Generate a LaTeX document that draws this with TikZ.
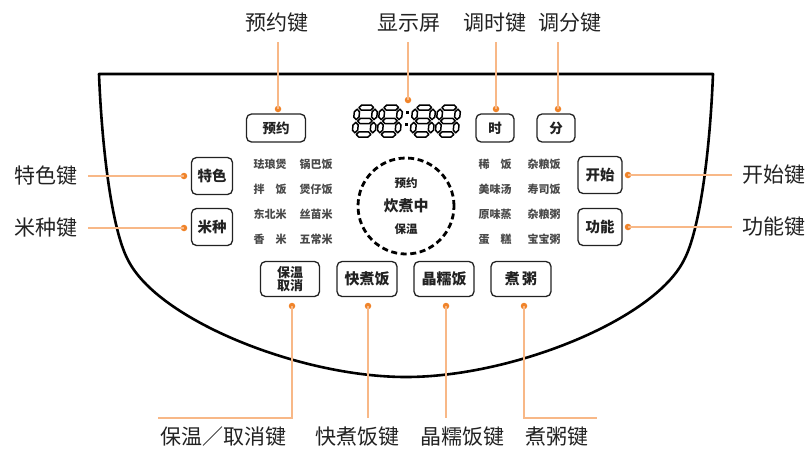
\documentclass[tikz,border=0pt]{standalone}
\usepackage{fontspec}
\newfontfamily\cjk{Noto Sans CJK SC}
\usetikzlibrary{calc}
\definecolor{leadc}{HTML}{F8B887}
\definecolor{dotc}{HTML}{F0842A}
\definecolor{ink}{HTML}{222222}
\definecolor{modec}{HTML}{4A4A4A}
\tikzset{
  lead/.style={leadc, line width=1.3pt},
  dotn/.style={circle, fill=dotc, inner sep=0pt, minimum size=6.5pt},
  lab/.style={font=\cjk\fontsize{21}{23}\selectfont, text=ink, inner sep=0pt},
  btn/.style={draw=ink, line width=1.3pt, rounded corners=5pt, fill=white, inner sep=0pt,
              font=\cjk\bfseries\fontsize{13.5}{14}\selectfont, text=ink, align=center},
  mode/.style={font=\cjk\bfseries\fontsize{11}{12}\selectfont, text=modec, inner sep=0pt},
  seg/.style={draw=black, line width=1.5pt, fill=white, line join=round},
  shell/.style={draw=black, line width=2.6pt, line join=round},
}
\newcommand\lcddigit[1]{%
  \begin{scope}[shift={#1}, xslant=0.1]
    \def\t{2.6}
    \foreach \c in {2.6,16,29.4}{
      \path[seg] (4.2,\c) -- (4.2+\t,\c-\t) -- (18.8-\t,\c-\t) -- (18.8,\c) -- (18.8-\t,\c+\t) -- (4.2+\t,\c+\t) -- cycle;
    }
    \foreach \c in {2.6,20.4}{
      \foreach \a/\b in {4.2/14.6,17.4/27.8}{
        \path[seg] (\c,\a) -- (\c+\t,\a+\t) -- (\c+\t,\b-\t) -- (\c,\b) -- (\c-\t,\b-\t) -- (\c-\t,\a+\t) -- cycle;
      }
    }
  \end{scope}}
\begin{document}
\begin{tikzpicture}[x=1pt,y=-1pt]
\useasboundingbox (0,0) rectangle (811,448);
\fill[white] (0,0) rectangle (811,448);

% cooker outline
\draw[shell] (99,74) .. controls (102,150) and (112,230) .. (128,260)
  .. controls (158,320) and (300,377) .. (406,377)
  .. controls (512,377) and (654,320) .. (684,260)
  .. controls (700,230) and (710,150) .. (713,74) -- cycle;

% LCD display
\lcddigit{(355,105)}
\lcddigit{(380,105)}
\lcddigit{(413,105)}
\lcddigit{(438,105)}
\fill (406,114) rectangle +(3,-3);
\fill (405,126) rectangle +(3,-3);

% center dashed indicator
\draw[line width=2.8pt, dash pattern=on 6pt off 3.6pt] (406,206) circle (48pt);
\node[font=\cjk\bfseries\fontsize{11.5}{12}\selectfont, text=ink] (i1) at (406,183) {预约};
\node[font=\cjk\bfseries\fontsize{15}{16}\selectfont, text=ink] (i2) at (406,206) {炊煮中};
\node[font=\cjk\bfseries\fontsize{11.5}{12}\selectfont, text=ink] (i3) at (406,229) {保温};

% top buttons
\node[btn, minimum width=59pt, minimum height=28pt] (byy) at (276,128) {预约};
\node[btn, minimum width=38pt, minimum height=28pt] (bsh) at (495,128) {时};
\node[btn, minimum width=38pt, minimum height=28pt] (bfe) at (556,128) {分};

% side buttons
\node[btn, minimum width=41pt, minimum height=37pt, font=\cjk\bfseries\fontsize{14.5}{15}\selectfont] (bts) at (212,176) {特色};
\node[btn, minimum width=41pt, minimum height=37pt, font=\cjk\bfseries\fontsize{14.5}{15}\selectfont] (bmz) at (212,227) {米种};
\node[btn, minimum width=44pt, minimum height=37pt, font=\cjk\bfseries\fontsize{14.5}{15}\selectfont] (bks) at (600,175) {开始};
\node[btn, minimum width=44pt, minimum height=37pt, font=\cjk\bfseries\fontsize{14.5}{15}\selectfont] (bgn) at (600,227) {功能};

% bottom buttons
\node[btn, minimum width=59pt, minimum height=35pt, font=\cjk\bfseries\fontsize{13}{14}\selectfont] (bbw) at (290,279) {保温\\[-1pt]取消};
\node[btn, minimum width=60pt, minimum height=35pt, font=\cjk\bfseries\fontsize{15}{16}\selectfont] (bkz) at (367,279) {快煮饭};
\node[btn, minimum width=60pt, minimum height=35pt, font=\cjk\bfseries\fontsize{15}{16}\selectfont] (bjn) at (444,279) {晶糯饭};
\node[btn, minimum width=60pt, minimum height=35pt, font=\cjk\bfseries\fontsize{15}{16}\selectfont] (bzz) at (521,279) {煮\,粥};

% mode labels left
\node[mode] (m11) at (270,164) {珐琅煲};
\node[mode] (m12) at (316,164) {锅巴饭};
\node[mode] (m21) at (270,189) {拌　饭};
\node[mode] (m22) at (316,189) {煲仔饭};
\node[mode] (m31) at (270,214) {东北米};
\node[mode] (m32) at (316,214) {丝苗米};
\node[mode] (m41) at (270,239) {香　米};
\node[mode] (m42) at (316,239) {五常米};
% mode labels right
\node[mode] (n11) at (495,164) {稀　饭};
\node[mode] (n12) at (544,164) {杂粮饭};
\node[mode] (n21) at (495,189) {美味汤};
\node[mode] (n22) at (544,189) {寿司饭};
\node[mode] (n31) at (495,214) {原味蒸};
\node[mode] (n32) at (544,214) {杂粮粥};
\node[mode] (n41) at (495,239) {蛋　糕};
\node[mode] (n42) at (544,239) {宝宝粥};

% outer labels
\node[lab] (lyy) at (277,23) {预约键};
\node[lab] (lxs) at (409,23) {显示屏};
\node[lab] (lsh) at (495,23) {调时键};
\node[lab] (lfe) at (570,23) {调分键};
\node[lab] (lts) at (46,176) {特色键};
\node[lab] (lmz) at (46,228) {米种键};
\node[lab] (lks) at (774,175) {开始键};
\node[lab] (lgn) at (774,227) {功能键};
\node[lab] (lbw) at (223,437) {保温／取消键};
\node[lab] (lkz) at (357,437) {快煮饭键};
\node[lab] (ljn) at (462,437) {晶糯饭键};
\node[lab] (lzz) at (557,437) {煮粥键};

% dots
\node[dotn] (dyy) at (278,109) {};
\node[dotn] (dxs) at (408,100) {};
\node[dotn] (dsh) at (496,109) {};
\node[dotn] (dfe) at (558,109) {};
\node[dotn] (dts) at (184,176) {};
\node[dotn] (dmz) at (184,228) {};
\node[dotn] (dks) at (628,175) {};
\node[dotn] (dgn) at (628,227) {};
\node[dotn] (dbw) at (292,306) {};
\node[dotn] (dkz) at (368,306) {};
\node[dotn] (djn) at (446,306) {};
\node[dotn] (dzz) at (524,306) {};

\coordinate (cbw) at (158,418);
\coordinate (czz) at (597,418);
\coordinate (ckz) at (368,418);
\coordinate (cjn) at (446,418);
\coordinate (tyy) at (278,42);
\coordinate (txs) at (408,42);
\coordinate (tsh) at (496,42);
\coordinate (tfe) at (558,42);

% leader lines
\draw[lead] (dyy.center) -- (tyy);
\draw[lead] (dxs.center) -- (txs);
\draw[lead] (dsh.center) -- (tsh);
\draw[lead] (dfe.center) -- (tfe);
\draw[lead, shorten >=10pt] (dts.center) -- (dts.center -| lts.east);
\draw[lead, shorten >=10pt] (dmz.center) -- (dmz.center -| lmz.east);
\draw[lead, shorten >=10pt] (dks.center) -- (dks.center -| lks.west);
\draw[lead, shorten >=10pt] (dgn.center) -- (dgn.center -| lgn.west);
\draw[lead] (dbw.center) |- (cbw);
\draw[lead] (dzz.center) |- (czz);
\draw[lead] (dkz.center) -- (ckz);
\draw[lead] (djn.center) -- (cjn);
\end{tikzpicture}
\end{document}
